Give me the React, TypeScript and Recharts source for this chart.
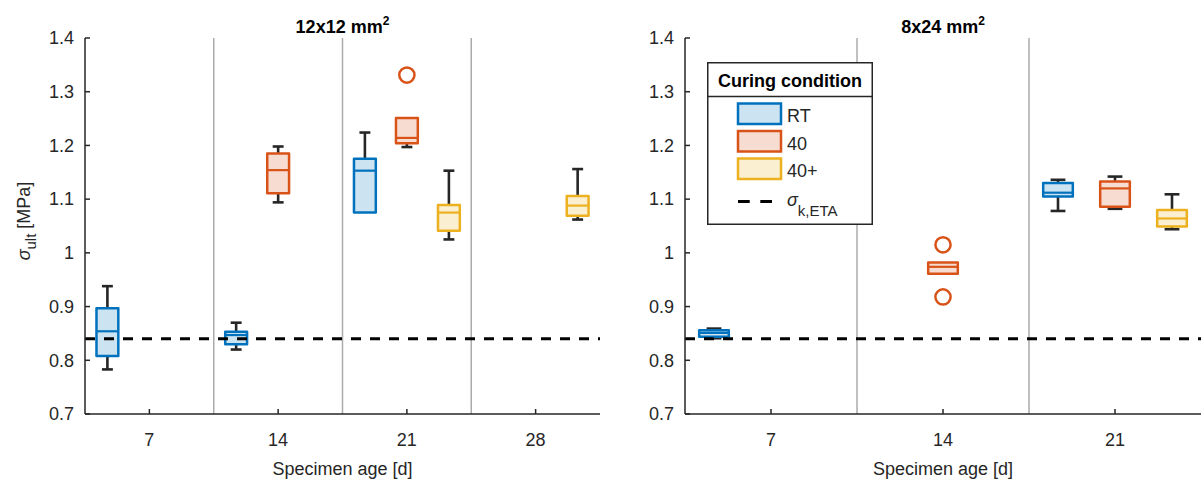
import React from 'react';
import { ComposedChart, Bar, Line, XAxis, YAxis, ReferenceLine, Legend } from 'recharts';

const FONT = '"Liberation Sans", Arial, Helvetica, sans-serif';
const AXIS = '#262626';

// ---- data ----
const ages12 = ['7', '14', '21', '28'];
const ages8 = ['7', '14', '21'];
// each entry: [lower whisker, q1, median, q3, upper whisker]
const rt12 = [
  [0.783, 0.808, 0.854, 0.897, 0.938],
  [0.82, 0.83, 0.847, 0.853, 0.87],
  [1.075, 1.075, 1.153, 1.175, 1.224],
  null,
];
const c40_12 = [
  null,
  [1.094, 1.111, 1.154, 1.185, 1.198],
  [1.197, 1.204, 1.214, 1.251, 1.251],
  null,
];
const c40p_12 = [
  null,
  null,
  [1.025, 1.041, 1.075, 1.089, 1.153],
  [1.062, 1.069, 1.088, 1.106, 1.156],
];
const out40_12 = [[], [], [1.331], []];

const rt8 = [
  [0.841, 0.844, 0.851, 0.856, 0.859],
  null,
  [1.078, 1.105, 1.112, 1.13, 1.136],
];
const c40_8 = [
  null,
  [0.961, 0.961, 0.974, 0.982, 0.982],
  [1.082, 1.086, 1.12, 1.133, 1.142],
];
const c40p_8 = [null, null, [1.044, 1.049, 1.064, 1.08, 1.109]];
const out40_8 = [[], [1.015, 0.918], []];

const sigmaK = 0.84;
const yTicks = [0.7, 0.8, 0.9, 1.0, 1.1, 1.2, 1.3, 1.4];
const legendNames = ['RT', '40', '40+'];
const titles = ['12x12 mm', '8x24 mm'];

const SERIES = [
  { key: 'rt', edge: '#0072BD', fill: '#CCE3F2' },
  { key: 'c40', edge: '#D95319', fill: '#F7DDD1' },
  { key: 'c40p', edge: '#EDB120', fill: '#FBEFD2' },
];

type Stats = number[] | null;

function buildRows(ages: string[], rt: Stats[], c40: Stats[], c40p: Stats[], out: number[][]) {
  return ages.map((age, i) => ({
    age,
    rt: rt[i] ? [rt[i]![0], rt[i]![4]] : null,
    rtS: rt[i],
    c40: c40[i] ? [c40[i]![0], c40[i]![4]] : null,
    c40S: c40[i],
    c40p: c40p[i] ? [c40p[i]![0], c40p[i]![4]] : null,
    c40pS: c40p[i],
    out1: out[i][0] ?? null,
    out2: out[i][1] ?? null,
  }));
}

const rows12 = buildRows(ages12, rt12, c40_12, c40p_12, out40_12);
const rows8 = buildRows(ages8, rt8, c40_8, c40p_8, out40_8);

// ---- box shape ----
function makeBox(sKey: string, edge: string, fill: string) {
  return (props: any) => {
    const { x, y, width, height, payload, index } = props;
    const s: Stats = payload ? payload[sKey] : null;
    const k = `box-${sKey}-${index}`;
    if (!s || ![x, y, width, height].every((v: any) => Number.isFinite(v))) return <g key={k} />;
    const top = Math.min(y, y + height);
    const bot = Math.max(y, y + height);
    const lo = s[0];
    const hi = s[4];
    const py = (v: number) => (hi === lo ? top : bot - ((v - lo) / (hi - lo)) * (bot - top));
    const cx = x + width / 2;
    const bw = width * 0.52;
    const cw = bw / 2;
    const wk = { stroke: '#262626', strokeWidth: 2.6 };
    return (
      <g key={k}>
        {s[4] > s[3] && (
          <g>
            <line x1={cx} x2={cx} y1={py(s[3])} y2={py(s[4])} {...wk} />
            <line x1={cx - cw / 2} x2={cx + cw / 2} y1={py(s[4])} y2={py(s[4])} {...wk} />
          </g>
        )}
        {s[0] < s[1] && (
          <g>
            <line x1={cx} x2={cx} y1={py(s[1])} y2={py(s[0])} {...wk} />
            <line x1={cx - cw / 2} x2={cx + cw / 2} y1={py(s[0])} y2={py(s[0])} {...wk} />
          </g>
        )}
        <rect
          x={cx - bw / 2}
          y={py(s[3])}
          width={bw}
          height={Math.max(0.5, py(s[1]) - py(s[3]))}
          fill={fill}
          stroke={edge}
          strokeWidth={2.5}
          strokeLinejoin="round"
        />
        <line x1={cx - bw / 2} x2={cx + bw / 2} y1={py(s[2])} y2={py(s[2])} stroke={edge} strokeWidth={2.2} />
      </g>
    );
  };
}

const outlierDot = (props: any) => {
  const { cx, cy, index } = props;
  if (cx == null || cy == null || !Number.isFinite(cx) || !Number.isFinite(cy)) return <g key={`o-${index}`} />;
  return <circle key={`o-${index}`} cx={cx} cy={cy} r={7.6} fill="none" stroke="#D95319" strokeWidth={2.5} />;
};

// ---- ticks & labels ----
const PLOT_TOP = 38;
const PLOT_H = 376;

const XTick = (props: any) => (
  <text x={props.x} y={props.y + 13} textAnchor="middle" fontSize={18} fill={AXIS} fontFamily={FONT}>
    {props.payload ? props.payload.value : ''}
  </text>
);

const YTick = (props: any) => (
  <text x={props.x} y={props.y + 6.3} textAnchor="end" fontSize={18} fill={AXIS} fontFamily={FONT}>
    {props.payload ? String(Math.round(props.payload.value * 10) / 10) : ''}
  </text>
);

const XLabel = (props: any) => {
  const vb = props && props.viewBox ? props.viewBox : null;
  const cx = vb && Number.isFinite(vb.x) ? vb.x + vb.width / 2 : 343;
  return (
    <text x={cx} y={475} textAnchor="middle" fontSize={18} fill={AXIS} fontFamily={FONT}>
      Specimen age [d]
    </text>
  );
};

const YLabel = (props: any) => {
  const vb = props && props.viewBox ? props.viewBox : null;
  const cy = (vb && Number.isFinite(vb.y) ? vb.y + vb.height / 2 : PLOT_TOP + PLOT_H / 2) - 5;
  const x = 30;
  return (
    <text x={x} y={cy} transform={`rotate(-90 ${x} ${cy})`} textAnchor="middle" fontSize={18} fill={AXIS} fontFamily={FONT}>
      <tspan fontStyle="italic">σ</tspan>
      <tspan dy={6} fontSize={15}>
        ult
      </tspan>
      <tspan dy={-6}> [MPa]</tspan>
    </text>
  );
};

const LegendBox = () => (
  <svg width={166} height={163} style={{ display: 'block', fontFamily: FONT }}>
    <rect x={0.75} y={0.75} width={164.5} height={161.5} fill="#fff" stroke={AXIS} strokeWidth={1.5} />
    <line x1={0.75} x2={165.25} y1={34.5} y2={34.5} stroke={AXIS} strokeWidth={1.5} />
    <text x={83} y={25} textAnchor="middle" fontWeight="bold" fontSize={18} fill="#000">
      Curing condition
    </text>
    {SERIES.map((s, i) => (
      <g key={s.key}>
        <rect x={31} y={41.5 + i * 27.5} width={43} height={20.5} fill={s.fill} stroke={s.edge} strokeWidth={2.5} />
        <text x={80} y={60 + i * 27.5} fontSize={18} fill={AXIS}>
          {legendNames[i]}
        </text>
      </g>
    ))}
    <line x1={31} x2={65} y1={139.5} y2={139.5} stroke="#000" strokeWidth={3} strokeDasharray="11.7 10.6" />
    <text x={80} y={143.5} fontSize={18} fill={AXIS}>
      <tspan fontStyle="italic">σ</tspan>
      <tspan dy={10} fontSize={15}>
        k,ETA
      </tspan>
    </text>
  </svg>
);

// ---- panel ----
type PanelProps = {
  rows: any[];
  ages: string[];
  yLabel: boolean;
  legend: boolean;
  gapPx: number;
  marginRight: number;
};

const Panel = ({ rows, ages, yLabel, legend, gapPx, marginRight }: PanelProps) => {
  const axisLine = { stroke: AXIS, strokeWidth: 1.5 };
  return (
    <ComposedChart
      width={602}
      height={482}
      data={rows}
      margin={{ top: PLOT_TOP, right: marginRight, bottom: 0, left: 0 }}
      barCategoryGap={gapPx}
      barGap={0}
      style={{ fontFamily: FONT }}
    >
      <XAxis
        xAxisId="b"
        dataKey="age"
        type="category"
        height={68}
        tickSize={-5}
        tickMargin={24}
        axisLine={axisLine}
        tickLine={axisLine}
        tick={XTick}
        interval={0}
        label={XLabel}
      />
      <XAxis
        xAxisId="top"
        dataKey="age"
        type="category"
        orientation="top"
        height={0}
        tickSize={-5}
        tick={false}
        interval={0}
        axisLine={axisLine}
        tickLine={axisLine}
      />
      <YAxis
        yAxisId="l"
        type="number"
        domain={[0.7, 1.4]}
        allowDataOverflow
        ticks={yTicks}
        interval={0}
        width={85}
        tickSize={-5}
        tickMargin={16}
        axisLine={axisLine}
        tickLine={axisLine}
        tick={YTick}
        label={yLabel ? YLabel : undefined}
      />
      <YAxis
        yAxisId="r"
        orientation="right"
        type="number"
        domain={[0.7, 1.4]}
        allowDataOverflow
        ticks={yTicks}
        interval={0}
        width={0}
        tickSize={-5}
        tick={false}
        axisLine={axisLine}
        tickLine={axisLine}
      />
      {ages.slice(1).map((a) => (
        <ReferenceLine
          key={`div-${a}`}
          xAxisId="b"
          yAxisId="l"
          x={a}
          position="start"
          stroke="#ababab"
          strokeWidth={1.5}
        />
      ))}
      {SERIES.map((s) => (
        <Bar
          key={s.key}
          xAxisId="b"
          yAxisId="l"
          dataKey={s.key}
          isAnimationActive={false}
          shape={makeBox(`${s.key}S`, s.edge, s.fill)}
        />
      ))}
      <Line
        xAxisId="b"
        yAxisId="l"
        dataKey="out1"
        stroke="none"
        dot={outlierDot}
        activeDot={false}
        isAnimationActive={false}
        legendType="none"
      />
      <Line
        xAxisId="b"
        yAxisId="l"
        dataKey="out2"
        stroke="none"
        dot={outlierDot}
        activeDot={false}
        isAnimationActive={false}
        legendType="none"
      />
      <ReferenceLine xAxisId="b" yAxisId="l" y={sigmaK} stroke="#000" strokeWidth={3} strokeDasharray="10 9" />
      {legend && (
        <Legend
          layout="vertical"
          align="center"
          verticalAlign="middle"
          content={() => <LegendBox />}
          wrapperStyle={{ left: 107, top: 62, width: 166, height: 163, margin: 0 }}
        />
      )}
    </ComposedChart>
  );
};

export default function App() {
  return (
    <div style={{ position: 'absolute', left: 0, top: 0, width: 1202, height: 482, background: '#fff', fontFamily: FONT }}>
      <div style={{ position: 'absolute', left: 0, top: 0 }}>
        <Panel rows={rows12} ages={ages12} yLabel legend={false} gapPx={1.4} marginRight={2} />
      </div>
      <div style={{ position: 'absolute', left: 600, top: 0 }}>
        <Panel rows={rows8} ages={ages8} yLabel={false} legend gapPx={0.5} marginRight={1} />
      </div>
      <svg
        width={1202}
        height={38}
        style={{ position: 'absolute', left: 0, top: 0, pointerEvents: 'none', fontFamily: FONT }}
      >
        {titles.map((t, i) => (
          <text key={t} x={i === 0 ? 342.5 : 943} y={33} textAnchor="middle" fontSize={18} fontWeight="bold" fill="#000">
            {t}
            <tspan dy={-8} fontSize={12}>
              2
            </tspan>
          </text>
        ))}
      </svg>
    </div>
  );
}
